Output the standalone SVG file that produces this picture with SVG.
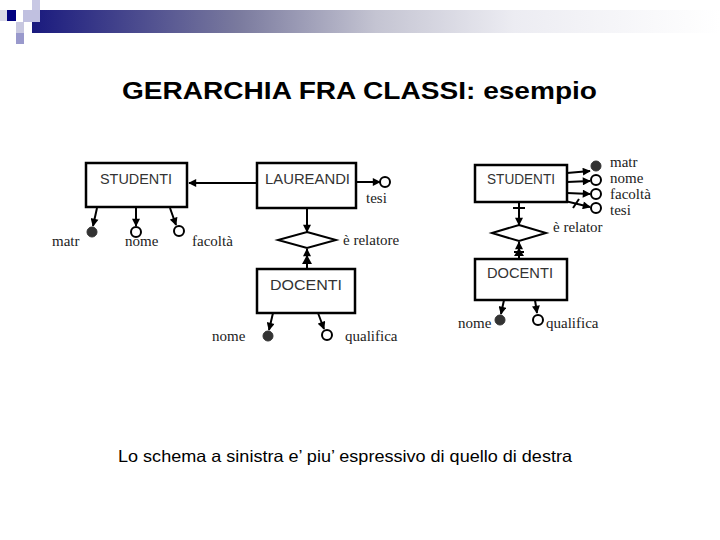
<svg xmlns="http://www.w3.org/2000/svg" width="720" height="540" viewBox="0 0 720 540">
<style>
.box{fill:#fff;stroke:#000;stroke-width:2.5}
.ln{stroke:#000;stroke-width:2;fill:none}
.lnm{stroke:#000;stroke-width:2;fill:none;marker-end:url(#ah)}
.dia{fill:#fff;stroke:#000;stroke-width:2}
.full{fill:#333;stroke:#333;stroke-width:1}
.open{fill:#fff;stroke:#000;stroke-width:2}
.ent{font-family:"Liberation Sans",Arial,sans-serif;font-size:14px;fill:#333}
.att{font-family:"Liberation Serif","Times New Roman",serif;font-size:15px;fill:#222}
.title{font-family:"Liberation Sans",Arial,sans-serif;font-weight:bold;font-size:24px;fill:#000}
.foot{font-family:"Liberation Sans",Arial,sans-serif;font-size:16.5px;fill:#000}
</style>
<defs>
<linearGradient id="bar" x1="0" y1="0" x2="1" y2="0">
<stop offset="0" stop-color="#1a1a7e"/>
<stop offset="0.3" stop-color="#7a7a9e"/>
<stop offset="0.5" stop-color="#c4c4d2"/>
<stop offset="0.7" stop-color="#ececf2"/>
<stop offset="1" stop-color="#ffffff"/>
</linearGradient>
<marker id="ah" viewBox="0 0 10 10" refX="9" refY="5" markerWidth="9" markerHeight="8" orient="auto" markerUnits="userSpaceOnUse">
<path d="M0,0 L10,5 L0,10 z" fill="#000"/>
</marker>
</defs>
<g id="header">
<rect x="32" y="10" width="688" height="23" fill="url(#bar)"/>
<rect x="0" y="10" width="7" height="11" fill="#d8d8e8"/>
<rect x="7" y="10" width="9" height="11" fill="#000080"/>
<rect x="32" y="0" width="8" height="10" fill="#c8c8e4"/>
<rect x="23" y="10" width="17" height="12" fill="#c0c0e0"/>
<rect x="16" y="22" width="8" height="11" fill="#c8c8e0"/>
<rect x="16" y="33" width="8" height="11" fill="#9999cc"/>
</g>
<text class="title" x="122" y="99" textLength="475" lengthAdjust="spacingAndGlyphs">GERARCHIA FRA CLASSI: esempio</text>
<g id="connectors">
<line class="lnm" x1="257" y1="183" x2="189" y2="183"/>
<line class="lnm" x1="356" y1="182" x2="380" y2="182"/>
<line class="lnm" x1="307" y1="208" x2="307" y2="232"/>
<line class="lnm" x1="307" y1="269" x2="307" y2="249"/>
<path d="M302,264 L307,255 L312,264 z" fill="#000"/>
<line class="lnm" x1="97" y1="208" x2="93" y2="226"/>
<line class="lnm" x1="136" y1="208" x2="136" y2="226"/>
<line class="lnm" x1="170" y1="208" x2="176" y2="225"/>
<line class="lnm" x1="273" y1="313" x2="269" y2="330"/>
<line class="lnm" x1="318" y1="313" x2="324" y2="329"/>
<line class="lnm" x1="567" y1="173" x2="590" y2="171"/>
<line class="lnm" x1="567" y1="182" x2="590" y2="181"/>
<line class="lnm" x1="567" y1="193" x2="590" y2="194"/>
<line class="lnm" x1="565" y1="201" x2="590" y2="207"/>
<line class="ln" x1="573" y1="208" x2="579" y2="199"/>
<line class="lnm" x1="519" y1="202" x2="519" y2="225"/>
<line class="ln" x1="513" y1="208" x2="525" y2="208"/>
<line class="lnm" x1="519" y1="259" x2="519" y2="242"/>
<path d="M514,256 L519,248 L524,256 z" fill="#000"/>
<line class="ln" x1="514" y1="252" x2="524" y2="252"/>
<line class="lnm" x1="504" y1="300" x2="501" y2="314"/>
<line class="lnm" x1="535" y1="300" x2="537" y2="313"/>
</g>
<g id="studenti-l">
<rect class="box" x="86" y="163" width="101" height="44"/>
<text class="ent" x="100" y="184" textLength="72" lengthAdjust="spacingAndGlyphs">STUDENTI</text>
</g>
<g id="laureandi">
<rect class="box" x="257" y="163" width="99" height="45"/>
<text class="ent" x="265" y="184" textLength="85" lengthAdjust="spacingAndGlyphs">LAUREANDI</text>
</g>
<g id="relatore-l">
<polygon class="dia" points="307,232 336,240 307,248 278,240"/>
<text class="att" x="343" y="245">è relatore</text>
</g>
<g id="docenti-l">
<rect class="box" x="257" y="269" width="98" height="44"/>
<text class="ent" x="270" y="290" textLength="72" lengthAdjust="spacingAndGlyphs">DOCENTI</text>
</g>
<g id="attr-l">
<circle class="full" cx="92" cy="232" r="5"/>
<text class="att" x="52" y="246">matr</text>
<circle class="open" cx="136" cy="232" r="5"/>
<text class="att" x="125" y="246">nome</text>
<circle class="open" cx="179" cy="231" r="5"/>
<text class="att" x="192" y="246">facoltà</text>
<circle class="open" cx="385" cy="182" r="5"/>
<text class="att" x="366" y="203">tesi</text>
<circle class="full" cx="268" cy="336" r="5"/>
<text class="att" x="212" y="341">nome</text>
<circle class="open" cx="327" cy="335" r="5"/>
<text class="att" x="345" y="341">qualifica</text>
</g>
<g id="studenti-r">
<rect class="box" x="475" y="165" width="92" height="37"/>
<text class="ent" x="487" y="184" textLength="68" lengthAdjust="spacingAndGlyphs">STUDENTI</text>
</g>
<g id="relatore-r">
<polygon class="dia" points="519,225 546,233 519,241 492,233"/>
<text class="att" x="553" y="232">è relator</text>
</g>
<g id="docenti-r">
<rect class="box" x="475" y="259" width="92" height="41"/>
<text class="ent" x="487" y="278" textLength="66" lengthAdjust="spacingAndGlyphs">DOCENTI</text>
</g>
<g id="attr-r">
<circle class="full" cx="596" cy="166" r="5"/>
<text class="att" x="610" y="167">matr</text>
<circle class="open" cx="596" cy="180" r="5"/>
<text class="att" x="610" y="183">nome</text>
<circle class="open" cx="596" cy="194" r="5"/>
<text class="att" x="610" y="199">facoltà</text>
<circle class="open" cx="596" cy="208" r="5"/>
<text class="att" x="610" y="215">tesi</text>
<circle class="full" cx="500" cy="320" r="5"/>
<text class="att" x="458" y="328">nome</text>
<circle class="open" cx="538" cy="320" r="5"/>
<text class="att" x="546" y="328">qualifica</text>
</g>
<text class="foot" x="118" y="462" textLength="454" lengthAdjust="spacingAndGlyphs">Lo schema a sinistra e’ piu’ espressivo di quello di destra</text>
</svg>
